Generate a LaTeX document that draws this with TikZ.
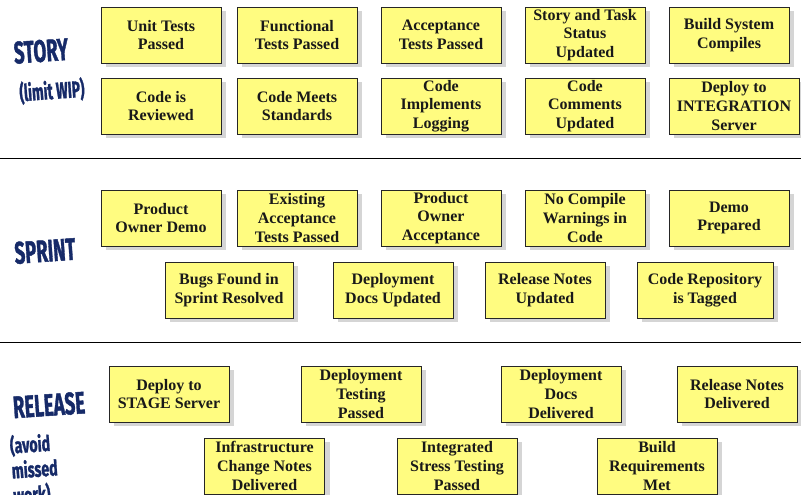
\documentclass[tikz,border=0pt]{standalone}
\usepackage{fontspec}
\setmainfont{Liberation Serif}
\newfontfamily\lblfont[BoldFeatures={FakeBold=1.6}]{Fira Sans}
\usetikzlibrary{shadows}
\definecolor{notefill}{RGB}{255,252,128}
\definecolor{lblblue}{RGB}{22,42,104}
\newcommand{\lbltext}[2]{\scalebox{#1}[1]{#2}}
\begin{document}
\begin{tikzpicture}[x=1pt,y=-1pt,
	    note/.style={draw=black!85,line width=.9pt,fill=notefill,minimum width=120pt,minimum height=56pt,
	        inner sep=1pt,align=center,font=\fontsize{16}{18.6}\selectfont\bfseries,text=black!90,
	        drop shadow={shadow xshift=5pt,shadow yshift=-4pt,opacity=.3,fill=black!55}},
	    lbl/.style={text=lblblue,font=\lblfont\bfseries,inner sep=0pt,rotate=4,align=left}]
	    \useasboundingbox (0,0) rectangle (801,495);
	    \coordinate (l1w) at (0,158);
	    \coordinate (l1e) at (801,158);
	    \coordinate (l2w) at (0,342.5);
	    \coordinate (l2e) at (801,342.5);
	    \draw[line width=.8pt] (l1w)--(l1e);
	    \draw[line width=.8pt] (l2w)--(l2e);
	    \node[lbl,font=\lblfont\bfseries\fontsize{31}{31}\selectfont] (story) at (41,51) {\lbltext{.6}{STORY}};
	    \node[lbl,font=\lblfont\bfseries\fontsize{23}{23}\selectfont] (wip) at (52,91) {\lbltext{.6}{(limit WIP)}};
	    \node[lbl,font=\lblfont\bfseries\fontsize{31}{31}\selectfont] (sprint) at (45,251) {\lbltext{.6}{SPRINT}};
	    \node[lbl,font=\lblfont\bfseries\fontsize{31}{31}\selectfont] (release) at (49,405) {\lbltext{.6}{RELEASE}};
	    \node[lbl,font=\lblfont\bfseries\fontsize{21.5}{25}\selectfont,anchor=north west] (missed) at (9,435) {\lbltext{.66}{(avoid}\\\lbltext{.66}{missed}\\\lbltext{.66}{work)}};
	    \node[note] (unit) at (161,35) {Unit Tests\\Passed};
	    \node[note] (func) at (297,35) {Functional\\Tests Passed};
	    \node[note] (accept) at (441,35) {Acceptance\\Tests Passed};
	    \node[note] (status) at (585,35) {Story and Task\\Status\\Updated};
	    \node[note] (build) at (729,35) {Build System\\Compiles};
	    \node[note] (review) at (161,106) {Code is\\Reviewed};
	    \node[note] (standards) at (297,106) {Code Meets\\Standards};
	    \node[note] (logging) at (441,106) {Code\\Implements\\Logging};
	    \node[note] (comments) at (585,106) {Code\\Comments\\Updated};
	    \node[note,minimum width=130pt] (integ) at (734,106) {Deploy to\\INTEGRATION\\Server};
	    \node[note] (demo) at (161,218) {Product\\Owner Demo};
	    \node[note] (existing) at (297,218) {Existing\\Acceptance\\Tests Passed};
	    \node[note] (poaccept) at (441,218) {Product\\Owner\\Acceptance};
	    \node[note] (warnings) at (585,218) {No Compile\\Warnings in\\Code};
	    \node[note] (prepared) at (729,218) {Demo\\Prepared};
	    \node[note,minimum width=128pt] (bugs) at (229,290) {Bugs Found in\\Sprint Resolved};
	    \node[note] (docsup) at (393,290) {Deployment\\Docs Updated};
	    \node[note] (notesup) at (545,290) {Release Notes\\Updated};
	    \node[note,minimum width=136pt] (tagged) at (705,290) {Code Repository\\is Tagged};
	    \node[note] (stage) at (169,394) {Deploy to\\STAGE Server};
	    \node[note] (deptest) at (361,394) {Deployment\\Testing\\Passed};
	    \node[note] (docsdel) at (561,394) {Deployment\\Docs\\Delivered};
	    \node[note] (notesdel) at (737,394) {Release Notes\\Delivered};
	    \node[note] (infra) at (264.5,466) {Infrastructure\\Change Notes\\Delivered};
	    \node[note] (stress) at (457,466) {Integrated\\Stress Testing\\Passed};
	    \node[note] (reqs) at (657,466) {Build\\Requirements\\Met};
\end{tikzpicture}
\end{document}
